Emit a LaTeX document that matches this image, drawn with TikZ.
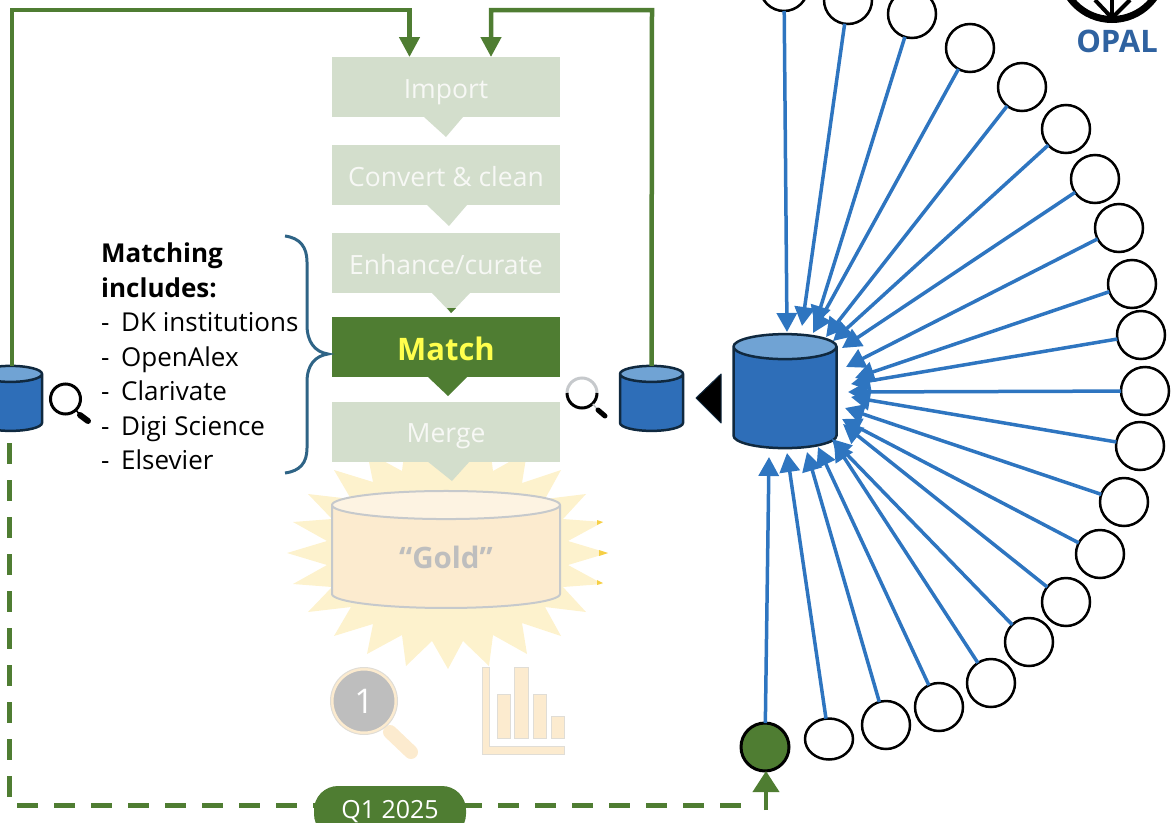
\documentclass[tikz,border=0pt]{standalone}
\usepackage{fontspec}
\setmainfont{Open Sans}
\usetikzlibrary{arrows.meta,shapes.geometric}

\definecolor{linkblue}{HTML}{2E75C0}
\definecolor{dbblue}{HTML}{2E6EB8}
\definecolor{dbtop}{HTML}{70A3D4}
\definecolor{dbedge}{HTML}{10293F}
\definecolor{flowgreen}{HTML}{4F7D32}
\definecolor{paleGreen}{HTML}{D3DECC}
\definecolor{paleText}{HTML}{F7F8F5}
\definecolor{burst}{HTML}{FDF2CD}
\definecolor{burstTip}{HTML}{F6CF45}
\definecolor{cream}{HTML}{FCEBCF}
\definecolor{creamTop}{HTML}{FDF3E2}
\definecolor{paleEdge}{HTML}{C6C9CC}
\definecolor{iconEdge}{HTML}{E0DDD6}
\definecolor{paleGrey}{HTML}{BEBEBE}
\definecolor{braceblue}{HTML}{2F6486}
\definecolor{opalblue}{HTML}{2F62A0}

\tikzset{
	stepbox/.style={rectangle,fill=paleGreen,text=paleText,minimum width=228pt,minimum height=60pt,inner sep=0pt,outer sep=0pt,text height=22pt,text depth=0pt,font=\fontsize{26.5}{30}\selectfont},
	database/.style={cylinder,shape border rotate=90,cylinder uses custom fill,cylinder body fill=dbblue,cylinder end fill=dbtop,draw=dbedge,line width=2.5pt,inner sep=0pt,outer sep=0pt},
	source/.style={circle,draw=black,fill=white,line width=2.5pt,minimum size=48pt,inner sep=0pt,outer sep=0pt},
	bluelink/.style={draw=linkblue,line width=3.5pt,-{Triangle[width=20pt,length=19pt]},color=linkblue},
	greenlink/.style={draw=flowgreen,line width=4.5pt,-{Triangle[width=20pt,length=20pt]},color=flowgreen},
	dashlink/.style={draw=flowgreen,line width=5pt,dash pattern=on 21pt off 16pt},
	iconpart/.style={fill=cream,draw=iconEdge,line width=1pt},
}

\begin{document}
\begin{tikzpicture}[x=1pt,y=-1pt]
	\useasboundingbox (0,0) rectangle (1172,822);
	\clip (0,0) rectangle (1172,822);

	\fill[burst] (287,553) -- (327,565) -- (293,584) -- (332,587) -- (308,612) -- (351,607) -- (334,636) -- (373,624) -- (367,654) -- (402,635) -- (406,666) -- (432,641) -- (448,669) -- (463,641) -- (489,666) -- (493,635) -- (527,654) -- (522,623) -- (561,636) -- (545,607) -- (586,612) -- (563,587) -- (603,584) -- (568,565) -- (608,553) -- (568,541) -- (603,522) -- (563,519) -- (586,494) -- (545,499) -- (561,470) -- (522,483) -- (527,452) -- (493,471) -- (489,440) -- (463,465) -- (448,437) -- (432,465) -- (406,440) -- (402,471) -- (367,452) -- (373,482) -- (334,470) -- (351,499) -- (308,494) -- (332,519) -- (293,522) -- (327,541) -- cycle;
	\fill[burstTip] (599,550) -- (608,553) -- (599,556) -- cycle;
	\fill[burstTip] (597,520) -- (603,522) -- (597,525) -- cycle;
	\fill[burstTip] (597,580) -- (603,583) -- (597,585) -- cycle;

	\node[cylinder,shape border rotate=90,cylinder uses custom fill,cylinder body fill=cream,cylinder end fill=creamTop,draw=paleEdge,line width=2pt,minimum width=228pt,minimum height=117pt,shape aspect=0.3,inner sep=0pt,outer sep=0pt,text=paleGrey,font=\fontsize{29.5}{32}\selectfont\bfseries] (gold) at (446,557) {“Gold”};

	\node[stepbox] (import) at (446,87) {Import};
	\node[stepbox] (convert) at (446,175) {Convert \& clean};
	\node[stepbox] (enhance) at (446,263) {Enhance/curate};
	\node[stepbox,fill=flowgreen,text={rgb,255:red,255;green,255;blue,77},text height=26pt,font=\fontsize{31}{38}\selectfont\bfseries] (match) at (446,347) {Match};
	\node[stepbox] (merge) at (446,431.5) {Merge};

	\fill[paleGreen] (424,117) -- (463,117) -- (446,137) -- cycle;
	\fill[paleGreen] (427,205) -- (467,205) -- (449,226) -- cycle;
	\fill[paleGreen] (432,293) -- (470,293) -- (451,313) -- cycle;
	\fill[flowgreen] (447,308) -- (456,308) -- (451,313) -- cycle;
	\fill[flowgreen] (428,377) -- (467,377) -- (448,396) -- cycle;
	\fill[paleGreen] (427,461) -- (470,461) -- (452,481) -- cycle;

	\draw[braceblue,line width=3pt] (285,236) .. controls (300,238) and (307,247) .. (307,262) -- (307,325) .. controls (307,342) and (315,352) .. (328,354) .. controls (315,356) and (307,365) .. (307,382) -- (307,448) .. controls (307,463) and (300,471) .. (285,473);

	\node[anchor=north west,align=left,inner sep=0pt,font=\fontsize{26}{34.5}\selectfont] (matchlist) at (101,243) {\textbf{Matching}\\\textbf{includes:}\\\makebox[20pt][l]{-}DK institutions\\\makebox[20pt][l]{-}OpenAlex\\\makebox[20pt][l]{-}Clarivate\\\makebox[20pt][l]{-}Digi Science\\\makebox[20pt][l]{-}Elsevier};

	\node[database,minimum width=63pt,minimum height=65pt,shape aspect=0.4] (leftdb) at (10.5,403) {\phantom{\rule{40pt}{10pt}}};
	\node[database,minimum width=63pt,minimum height=65pt,shape aspect=0.4] (smalldb) at (651.5,403) {\phantom{\rule{40pt}{10pt}}};
	\node[database,minimum width=103pt,minimum height=114pt,shape aspect=0.625] (bigdb) at (785,398) {\phantom{\rule{40pt}{10pt}}};

	\fill[black,draw=dbedge,line width=1pt,line join=round] (696,398) -- (721,374) -- (721,423) -- cycle;

	\coordinate (leftturn) at (12,10);
	\coordinate (leftin) at (409.5,57);
	\coordinate (rightturn) at (652,10);
	\coordinate (rightin) at (491,57);
	\draw[greenlink] (leftdb.north -| leftturn) -- (leftturn) -- (leftturn -| leftin) -- (leftin);
	\draw[greenlink] (smalldb.north) -- (rightturn) -- (rightturn -| rightin) -- (rightin);

	\foreach \i/\x/\y/\tx/\ty in {1/784/-13/787/332,2/848/0/802/326,3/912/14/815/325,4/970/48/813/333,5/1022/87/826/337,6/1066/129/833/341,7/1095/179/842/348,8/1119/228/846/367,9/1132/284/855/378,10/1141/335/851/384,11/1145/391/848/392,12/1140/446/851/397,13/1124/502/845/408,14/1100/554/842/419,15/1066/602/843/424,16/1029/642/832/439,17/991/683/834/442,18/939/707/818/447,19/886/725/807/452}
	{
		\node[source] (src\i) at (\x,\y) {};
		\coordinate (tip\i) at (\tx,\ty);
		\draw[bluelink] (src\i) -- (tip\i);
	}
	\node[source,ellipse,minimum width=48pt,minimum height=41pt] (src20) at (829,739) {};
	\coordinate (tip20) at (787,453);
	\draw[bluelink] (src20) -- (tip20);

	\node[source,fill=flowgreen,line width=3pt] (trigger) at (765,747) {};
	\coordinate (tip21) at (769,457);
	\draw[bluelink] (trigger) -- (tip21);

	\coordinate (dashstart) at (9,443);
	\coordinate (dashcorner) at (9,805);
	\coordinate (dashend) at (748,805);
	\coordinate (stem) at (766,810);
	\draw[dashlink] (dashstart) -- (dashcorner) -- (dashend);
	\draw[flowgreen,line width=4pt,-{Triangle[width=26pt,length=21pt]}] (stem) -- (trigger.south -| stem);
	\node[rectangle,fill=flowgreen,text=white,rounded corners=24pt,minimum width=152pt,minimum height=52pt,inner sep=0pt,text height=12pt,text depth=0pt,font=\fontsize{25}{28}\selectfont] (quarter) at (390,812) {Q1 2025};

	\draw[black,line width=3pt] (65.5,399) circle (15);
	\draw[black,line width=1.5pt] (76,410) -- (80,415);
	\draw[black,line width=6pt,line cap=round] (80,415) -- (88,421);

	\draw[paleEdge,line width=3pt] (567,393) arc[start angle=180,end angle=360,radius=15];
	\draw[black,line width=3pt] (567,393) arc[start angle=180,end angle=0,radius=15];
	\draw[paleEdge,line width=1.5pt] (593,404) -- (597,409);
	\draw[black,line width=5pt,line cap=round] (598,410) -- (605,416);

	\draw[cream,line width=14pt,line cap=round] (390,732) -- (411,752);
	\fill[paleGrey,draw=cream,line width=3pt] (364,701) circle (32);
	\draw[iconEdge,line width=1pt] (364,701) circle (33.5);
	\node[text=white,inner sep=0pt,font=\fontsize{34}{38}\selectfont] (rank) at (364,701) {1};

	\draw[iconpart] (482,667) -- (489,667) -- (489,746) -- (564,746) -- (564,754) -- (482,754) -- cycle;
	\draw[iconpart] (497,694) rectangle (510,738);
	\draw[iconpart] (514,667) rectangle (528,738);
	\draw[iconpart] (533,694) rectangle (546,738);
	\draw[iconpart] (551,716) rectangle (564,738);

	\draw[black,line width=7pt] (1112,-32.5) circle (52);
	\foreach \x in {1095,1112,1130}
	\draw[black,line width=4pt] (1112,18) -- (\x,0);
	\node[text=opalblue,inner sep=0pt,font=\fontsize{31}{34}\selectfont\bfseries] (opal) at (1117,41) {OPAL};
\end{tikzpicture}
\end{document}
